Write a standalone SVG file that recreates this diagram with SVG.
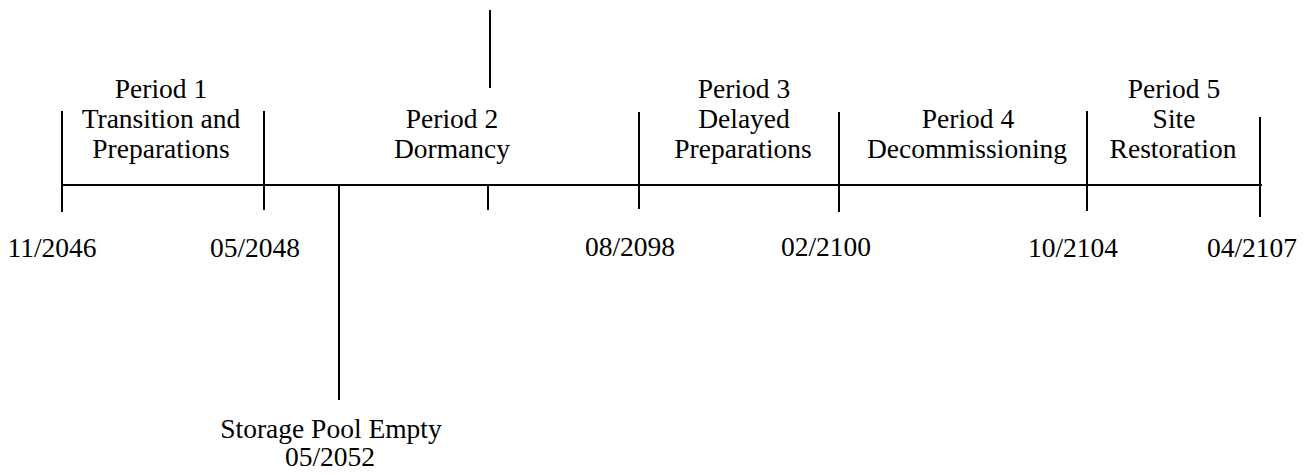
<svg xmlns="http://www.w3.org/2000/svg" width="1307" height="475" viewBox="0 0 1307 475">
<style>
.l{stroke:#000;stroke-width:2;fill:none}
text{font-family:"Liberation Serif","Times New Roman",serif;font-size:27.5px;fill:#000;text-anchor:middle}
</style>
<rect width="1307" height="475" fill="#fff"/>
<g id="connectors">
<line class="l" x1="62" y1="185" x2="1262" y2="185"/>
<line class="l" x1="62" y1="111" x2="62" y2="212"/>
<line class="l" x1="264" y1="111" x2="264" y2="210"/>
<line class="l" x1="339" y1="185" x2="339" y2="400"/>
<line class="l" x1="488" y1="185" x2="488" y2="210"/>
<line class="l" x1="490" y1="10" x2="490" y2="88"/>
<line class="l" x1="639" y1="112" x2="639" y2="209"/>
<line class="l" x1="839" y1="112" x2="839" y2="212"/>
<line class="l" x1="1087" y1="111" x2="1087" y2="211"/>
<line class="l" x1="1260" y1="117" x2="1260" y2="217"/>
</g>
<g id="period1"><text x="161" y="98">Period 1</text><text x="161" y="128">Transition and</text><text x="161" y="158">Preparations</text></g>
<g id="period2"><text x="452" y="128">Period 2</text><text x="452" y="158">Dormancy</text></g>
<g id="period3"><text x="744" y="98">Period 3</text><text x="744" y="128">Delayed</text><text x="743" y="158">Preparations</text></g>
<g id="period4"><text x="968" y="128">Period 4</text><text x="967" y="158">Decommissioning</text></g>
<g id="period5"><text x="1174" y="98">Period 5</text><text x="1174" y="128">Site</text><text x="1173" y="158">Restoration</text></g>
<g id="dates">
<text x="52" y="257">11/2046</text>
<text x="255" y="257">05/2048</text>
<text x="630" y="256">08/2098</text>
<text x="826" y="256">02/2100</text>
<text x="1073" y="257">10/2104</text>
<text x="1252" y="257">04/2107</text>
</g>
<g id="storage"><text x="331" y="438">Storage Pool Empty</text><text x="330" y="466">05/2052</text></g>
</svg>
